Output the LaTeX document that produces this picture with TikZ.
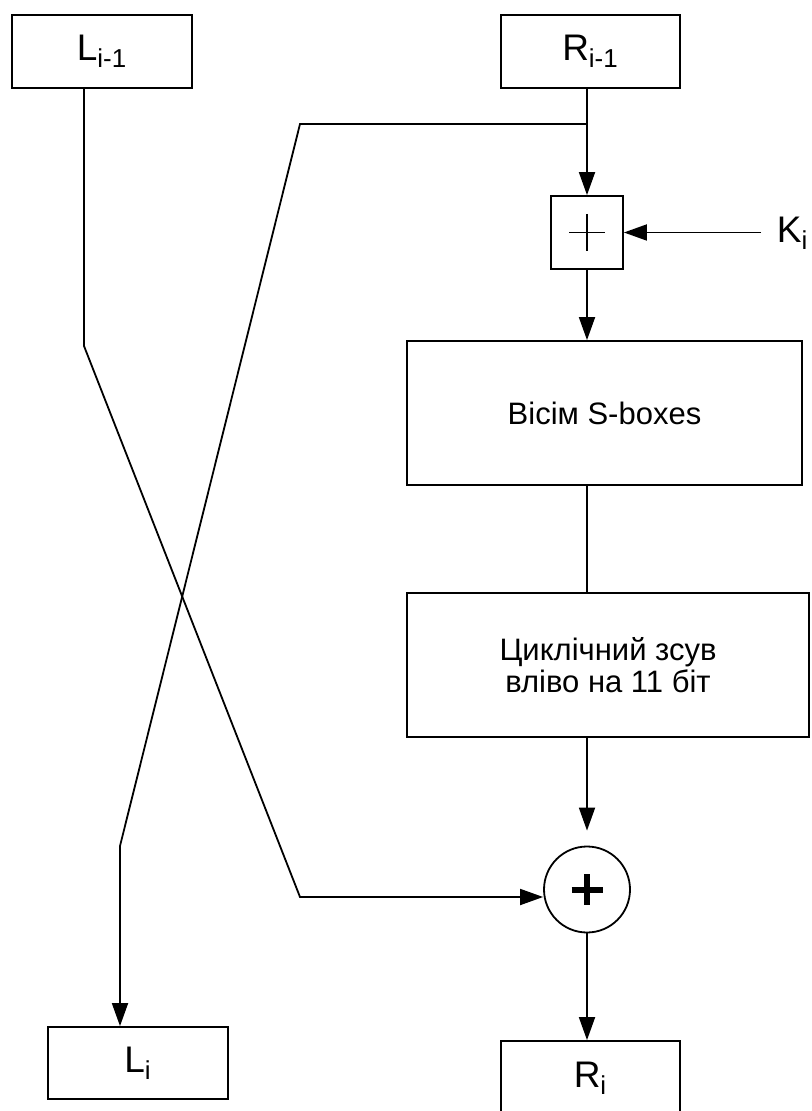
\documentclass[tikz,border=0pt]{standalone}
\usepackage{fontspec}
\setmainfont{Liberation Sans}
\usetikzlibrary{arrows.meta}
\begin{document}
\begin{tikzpicture}[x=0.5pt, y=-0.5pt, line width=0.9pt,
  every node/.style={font=\fontsize{15.5}{16}\selectfont},
  blk/.style={draw, align=center, inner sep=0pt},
  lbl/.style={font=\fontsize{18.5}{22}\selectfont},
  arr/.style={-{Triangle[length=11.5pt,width=8pt]}}]
\useasboundingbox (0,0) rectangle (811,1111);
% blocks
\node[blk, lbl, minimum width=90pt, minimum height=36.5pt] (Lp) at (102,51.5) {L\textsubscript{i-1}};
\node[blk, lbl, minimum width=89.5pt, minimum height=36.5pt] (Rp) at (590.5,51.5) {R\textsubscript{i-1}};
\node[blk, minimum width=36pt, minimum height=36.5pt] (xr) at (587,232.5) {};
\node[blk, minimum width=197.5pt, minimum height=72pt] (sb) at (604.5,413) {Вісім S-boxes};
\node[blk, minimum width=201pt, minimum height=72pt] (sh) at (608,665) {Циклічний зсув\\вліво на 11 біт};
\node[draw, circle, minimum size=43pt, inner sep=0pt] (ad) at (587,889.5) {};
\node[blk, lbl, minimum width=90pt, minimum height=36pt] (Li) at (138,1063) {L\textsubscript{i}};
\node[blk, lbl, minimum width=89.5pt, minimum height=37pt] (Ri) at (590.5,1078) {R\textsubscript{i}};
\node[lbl, inner sep=0pt, anchor=base west] (K) at (776,243) {K\textsubscript{i}};
% plus signs
\draw[line width=0.8pt] (xr.center) ++(-18,0) -- ++(36,0) (xr.center) ++(0,-18.5) -- ++(0,37);
\draw[line width=3pt] (ad.center) ++(-15.5,0) -- ++(31,0) (ad.center) ++(0,-15.5) -- ++(0,31);
% connectors
\coordinate (bt) at (300,124); \coordinate (ck) at (120,846);
\coordinate (lk) at (84,346); \coordinate (bj) at (300,897);
\coordinate (kin) at (761,232.5);
\draw[arr] (Rp.south -| xr) -- (xr.north);
\draw[arr] (xr.north |- bt) -- (bt) -- (ck) -- (ck |- Li.north);
\draw[arr] (Lp.south -| lk) -- (lk) -- (bj) -- (bj -| ad.west);
\draw[arr] (kin) -- (xr.east);
\draw[arr] (xr.south) -- (xr.south |- sb.north);
\draw (sb.south -| xr) -- (sh.north -| xr);
\draw[arr, shorten >=7.5pt] (sh.south -| ad) -- (ad.north);
\draw[arr] (ad.south) -- (ad.south |- Ri.north);
\end{tikzpicture}
\end{document}
